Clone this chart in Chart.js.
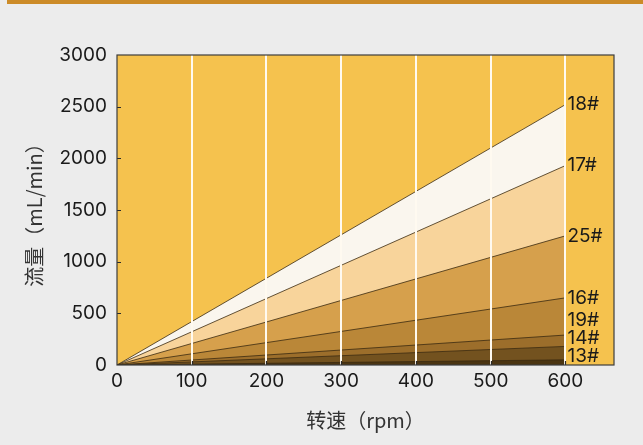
<!DOCTYPE html>
<html>
<head>
<meta charset="utf-8">
<script src="https://cdn.jsdelivr.net/npm/chart.js@4.4.0/dist/chart.umd.min.js"></script>
<style>
html, body { margin: 0; padding: 0; background: #ececec; }
#wrap { position: absolute; left: 0; top: 0; width: 643px; height: 445px; }
#bar { position: absolute; left: 7px; top: 0; width: 636px; height: 4px; background: #cc8b28; }
</style>
</head>
<body>
<div id="wrap"><canvas id="chart" width="643" height="445"></canvas></div>
<div id="bar"></div>
<script>
// pump sizes, smallest first (drawn last so they sit on top)
var tubeNames = ['13#', '14#', '19#', '16#', '25#', '17#', '18#'];
var speedRange = [0, 600];          // rpm
var flowAt0 = [0, 0, 0, 0, 0, 0, 0];
var flowAt600 = [50, 180, 290, 650, 1250, 1930, 2520];   // mL/min
var bandColours = ['#4b3512', '#73521f', '#9c6e2b', '#ba8738', '#d6a04c', '#f8d49b', '#faf6ee'];
var xTicks = [0, 100, 200, 300, 400, 500, 600];
var yTicks = [0, 500, 1000, 1500, 2000, 2500, 3000];

var tickFont = { family: 'Inter, "Liberation Sans", sans-serif', size: 19 };
var titleFont = { family: '"Noto Sans CJK SC", sans-serif', size: 20 };

var datasets = [];
for (var i = 0; i < tubeNames.length; i++) {
	datasets.push({
		label: tubeNames[i],
		data: [{ x: speedRange[0], y: flowAt0[i] }, { x: speedRange[1], y: flowAt600[i] }],
		fill: 'origin',
		backgroundColor: bandColours[i],
		borderColor: '#3b2b12',
		borderWidth: 0.8,
		pointRadius: 0,
		tension: 0
	});
}

var plotDeco = {
	id: 'plotDeco',
	beforeDraw: function(chart) {
		var a = chart.chartArea, ctx = chart.ctx;
		ctx.save();
		ctx.fillStyle = '#f5c24e';
		ctx.fillRect(a.left, a.top, a.right - a.left, a.bottom - a.top);
		ctx.restore();
	},
	afterDraw: function(chart) {
		var a = chart.chartArea, ctx = chart.ctx;
		var xs = chart.scales.x, ys = chart.scales.y;
		ctx.save();
		// small inward ticks
		ctx.strokeStyle = '#2a2a2a';
		ctx.lineWidth = 1.2;
		ctx.beginPath();
		for (var i = 1; i < xTicks.length; i++) {
			var px = Math.round(xs.getPixelForValue(xTicks[i])) + 0.5;
			ctx.moveTo(px, a.bottom);
			ctx.lineTo(px, a.bottom - 4);
		}
		for (var j = 1; j < yTicks.length - 1; j++) {
			var py = Math.round(ys.getPixelForValue(yTicks[j])) + 0.5;
			ctx.moveTo(a.left, py);
			ctx.lineTo(a.left + 4, py);
		}
		ctx.stroke();
		// frame
		ctx.strokeStyle = '#3d3d3d';
		ctx.lineWidth = 1.2;
		ctx.strokeRect(a.left, a.top, a.right - a.left, a.bottom - a.top);
		// end labels, pushed apart so they do not overlap
		ctx.fillStyle = '#1a1a1a';
		ctx.font = tickFont.size + 'px ' + tickFont.family;
		ctx.textAlign = 'left';
		ctx.textBaseline = 'middle';
		var lx = xs.getPixelForValue(speedRange[1]) + 2;
		var prev = a.bottom - 9 + 18;
		for (var k = 0; k < tubeNames.length; k++) {
			var ly = Math.min(ys.getPixelForValue(flowAt600[k]), prev - 18, a.bottom - 9);
			ctx.fillText(tubeNames[k], lx, ly);
			prev = ly;
		}
		ctx.restore();
	}
};

var chartObj = new Chart(document.getElementById('chart'), {
	type: 'line',
	data: { datasets: datasets },
	plugins: [plotDeco],
	options: {
		responsive: false,
		animation: false,
		layout: { padding: { left: 0, right: 29, top: 55, bottom: 0 } },
		plugins: { legend: { display: false }, tooltip: { enabled: false } },
		scales: {
			x: {
				type: 'linear',
				min: 0,
				max: 665,
				afterBuildTicks: function(s) { s.ticks = xTicks.map(function(v) { return { value: v }; }); },
				afterFit: function(s) { s.height = 80; },
				border: { display: false },
				grid: {
					z: 1,
					color: function(c) { return (c.tick && c.tick.value > 0 && c.tick.value <= 600) ? '#fffaf0' : 'rgba(0,0,0,0)'; },
					lineWidth: 2,
					drawTicks: false
				},
				ticks: { padding: 5, color: '#1a1a1a', font: tickFont, maxRotation: 0, autoSkip: false,
					callback: function(v) { return String(v); } },
				title: { display: true, text: '转速（rpm）', color: '#333', font: titleFont, padding: { top: 0, bottom: 13 } }
			},
			y: {
				type: 'linear',
				min: 0,
				max: 3000,
				afterBuildTicks: function(s) { s.ticks = yTicks.map(function(v) { return { value: v }; }); },
				afterFit: function(s) { s.width = 117; },
				border: { display: false },
				grid: { display: false, drawTicks: false },
				ticks: { padding: 10, color: '#1a1a1a', font: tickFont,
					callback: function(v) { return String(v); } },
				title: { display: true, text: '流量（mL/min）', color: '#333', font: titleFont, padding: { top: 22, bottom: 0 } }
			}
		}
	}
});
</script>
</body>
</html>
